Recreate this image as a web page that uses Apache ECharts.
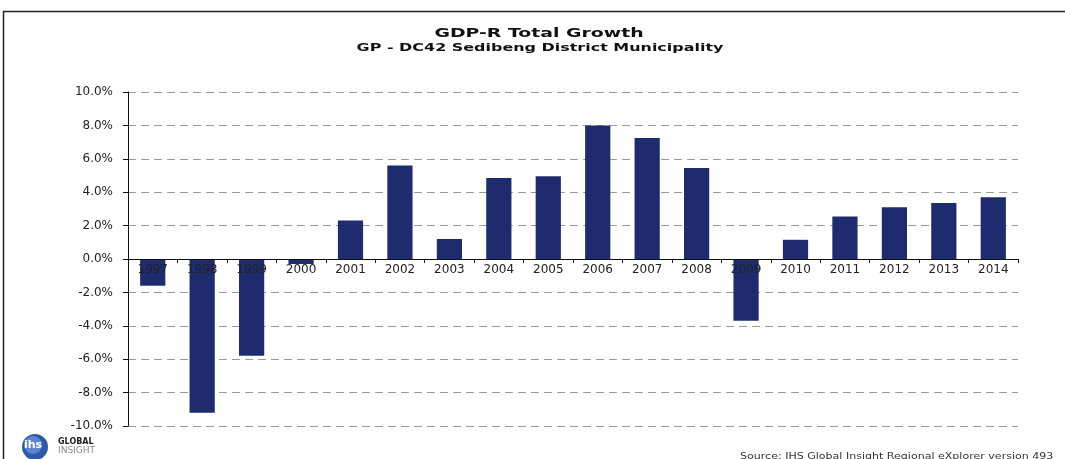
<!DOCTYPE html>
<html>
<head>
<meta charset="utf-8">
<script src="https://cdn.jsdelivr.net/npm/echarts@6/dist/echarts.min.js"></script>
<style>
  html, body { margin: 0; padding: 0; background: #ffffff; }
  #chart { width: 1065px; height: 459px; }
</style>
</head>
<body>
<div id="chart"></div>
<script>
// Annual real GDP growth, Sedibeng District Municipality (percent)
const years = ['1997','1998','1999','2000','2001','2002','2003','2004','2005','2006','2007','2008','2009','2010','2011','2012','2013','2014'];
const growth = [-1.6, -9.2, -5.8, -0.3, 2.3, 5.6, 1.2, 4.85, 4.95, 8.0, 7.25, 5.45, -3.7, 1.15, 2.55, 3.1, 3.35, 3.7];
const yMin = -10, yMax = 10, yStep = 2;

const FAMILY = "'DejaVu Sans', sans-serif";
const WIDE = 1.45; // horizontal stretch of the heading type
const gridTop = 92, gridBottom = 33, chartH = 459;
const plotH = chartH - gridTop - gridBottom;
// category axis sits on the zero line, labels just under it
const zeroOffset = -plotH * (0 - yMin) / (yMax - yMin);

const chart = echarts.init(document.getElementById('chart'), null, { renderer: 'canvas' });

chart.setOption({
  backgroundColor: '#ffffff',
  animation: false,
  grid: { left: 128, right: 47, top: gridTop, bottom: gridBottom, containLabel: false },
  xAxis: {
    type: 'category',
    data: years,
    position: 'bottom',
    offset: zeroOffset,
    axisLine: { onZero: false, lineStyle: { color: '#111', width: 1 } },
    axisTick: { show: true, alignWithLabel: false, length: 4, lineStyle: { color: '#111' } },
    axisLabel: { fontFamily: FAMILY, fontSize: 12, color: '#222', margin: 5 },
    z: 5
  },
  yAxis: {
    type: 'value',
    min: yMin, max: yMax, interval: yStep,
    axisLine: { show: true, lineStyle: { color: '#111', width: 1 } },
    axisTick: { show: true, inside: false, length: 5, lineStyle: { color: '#111' } },
    axisLabel: {
      fontFamily: FAMILY, fontSize: 12, color: '#222', margin: 15,
      formatter: v => v.toFixed(1) + '%'
    },
    splitLine: { show: true, lineStyle: { color: '#9a9a9a', type: [8, 5], width: 1 } }
  },
  series: [{
    type: 'bar',
    data: growth,
    barWidth: '51%',
    itemStyle: { color: '#1e2c6f' },
    z: 2
  }],
  graphic: [
    // headings, set in wide type
    { type: 'text', x: 539, y: 34, scaleX: WIDE,
      style: { text: 'GDP-R Total Growth', fill: '#111', align: 'center', verticalAlign: 'middle',
               font: 'bold 13px ' + FAMILY } },
    { type: 'text', x: 540, y: 48, scaleX: WIDE,
      style: { text: 'GP - DC42 Sedibeng District Municipality', fill: '#111', align: 'center', verticalAlign: 'middle',
               font: 'bold 11px ' + FAMILY } },
    // outer frame (top and left edges)
    { type: 'line', shape: { x1: 3, y1: 11.5, x2: 1065, y2: 11.5 }, style: { stroke: '#222', lineWidth: 1.5 } },
    { type: 'line', shape: { x1: 3.5, y1: 11, x2: 3.5, y2: 459 }, style: { stroke: '#222', lineWidth: 1.5 } },
    // logo mark
    { type: 'circle', shape: { cx: 35, cy: 447, r: 13 }, style: { fill: '#2f5aa8' } },
    { type: 'circle', shape: { cx: 33, cy: 445, r: 9 }, style: { fill: '#5b86cf' } },
    { type: 'text', left: 24, top: 440, style: { text: 'ihs', fill: '#ffffff', font: 'bold 11px ' + FAMILY } },
    { type: 'text', left: 58, top: 438, style: { text: 'GLOBAL', fill: '#222', font: 'bold 8px ' + FAMILY } },
    { type: 'text', left: 58, top: 446, style: { text: 'INSIGHT', fill: '#888', font: '9px ' + FAMILY } },
    // source note
    { type: 'text', x: 740, y: 453, scaleX: 1.38,
      style: { text: 'Source: IHS Global Insight Regional eXplorer version 493', fill: '#333',
               align: 'left', verticalAlign: 'top', font: '8px ' + FAMILY } }
  ]
});
</script>
</body>
</html>
